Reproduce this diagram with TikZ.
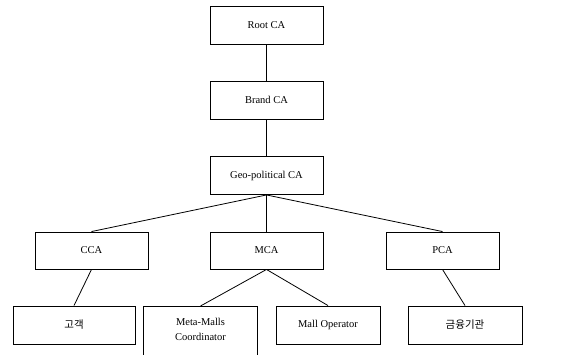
\documentclass[tikz,border=0pt]{standalone}
\usepackage{fontspec}
\setmainfont{Liberation Serif}
\newfontfamily\kofont{Noto Sans CJK KR}
\usepackage{tikz}
\tikzset{
  cabox/.style={draw, line width=0.9pt, rectangle, inner sep=0pt, align=center,
    minimum width=113pt, minimum height=38pt, font=\fontsize{10.5}{13}\selectfont},
  link/.style={line width=0.8pt}
}

\begin{document}
\begin{tikzpicture}[x=1pt, y=-1pt]
  \useasboundingbox[fill=white] (0,0) rectangle (564,354);
  % CA chain
  \node[cabox] (root)  at (266.5,25)    {Root CA};
  \node[cabox] (brand) at (266.5,100)   {Brand CA};
  \node[cabox] (geo)   at (266.5,175.5) {Geo-political CA};
  % second level
  \node[cabox, minimum height=37pt] (cca) at (91.5,250.5)  {CCA};
  \node[cabox, minimum height=37pt] (mca) at (266.5,250.5) {MCA};
  \node[cabox, minimum height=37pt] (pca) at (442.5,250.5) {PCA};
  % end entities
  \node[cabox, minimum width=122pt] (cust) at (74,325) {\kofont 고객};
  \node[cabox, draw=none, minimum height=45pt, anchor=north] (meta) at (200.5,306)
    {Meta-Malls\\[2pt]Coordinator};
  \draw[line width=0.9pt] ([yshift=-4pt]meta.south west) -- (meta.north west)
    -- (meta.north east) -- ([yshift=-4pt]meta.south east);
  \node[cabox, minimum width=104pt] (mall) at (328,325) {Mall Operator};
  \node[cabox, minimum width=114pt] (bank) at (465,325) {\kofont 금융기관};
  % links
  \foreach \a/\b in {root/brand, brand/geo, geo/cca, geo/mca, geo/pca,
                     cca/cust, mca/meta, mca/mall, pca/bank}
    \draw[link] (\a.south) -- (\b.north);
\end{tikzpicture}
\end{document}
